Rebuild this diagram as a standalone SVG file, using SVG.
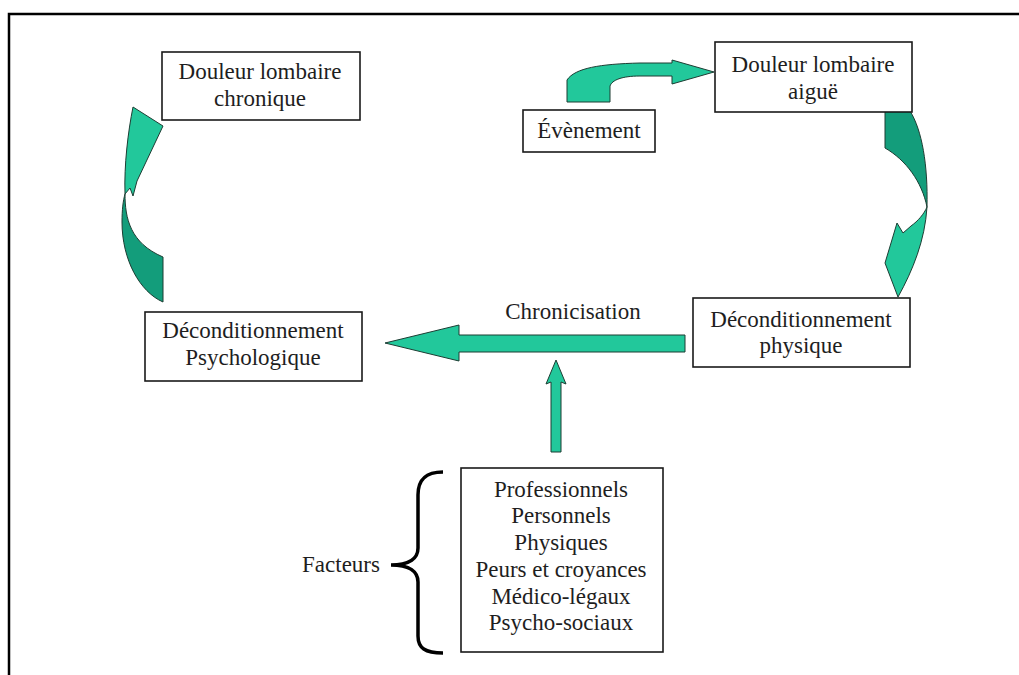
<svg xmlns="http://www.w3.org/2000/svg" width="1019" height="675" viewBox="0 0 1019 675">
<style>
.box{fill:#fff;stroke:#1a1a1a;stroke-width:1.6}
.t{font-family:"Liberation Serif","Times New Roman",serif;font-size:23px;fill:#1e1e1e;text-anchor:middle}
.light{fill:#22c89b;stroke:#1d3d33;stroke-width:1}
.dark{fill:#139d7b;stroke:#1d3d33;stroke-width:1}
.frame{fill:none;stroke:#000;stroke-width:2.5}
</style>
<rect width="1019" height="675" fill="#fff"/>
<path class="frame" d="M9,675 L9,14 L1019,14"/>

<g id="connectors">
  <!-- left curved arrow: Deconditionnement Psychologique -> Douleur lombaire chronique -->
  <g id="arrow-left">
    <path class="dark" d="M163,257 L163,302 C140,292 122,260 122,222 C122,210 123,201 125,194 C125,218 130,243 163,257 Z"/>
    <path class="light" d="M125,194 C124,165 128,132 133,107 L163,126 L137,181 L133,196 L130,188 Z"/>
  </g>
  <!-- right curved arrow: Douleur lombaire aigue -> Deconditionnement physique -->
  <g id="arrow-right">
    <path class="dark" d="M885,111 L910,111 C922,130 928,165 927,207 C922,182 906,160 885,148 Z"/>
    <path class="light" d="M927,207 C925,240 913,270 898,297 L885,263 L897,223 L903,233 L911,226 C918,221 924,214 927,207 Z"/>
  </g>
  <!-- top arrow: Evenement -> Douleur lombaire aigue -->
  <path id="arrow-top" class="light" d="M567,102 L567,80 C575,68 600,64 640,63 L672,63 L672,60 L714,72 L672,84 L672,76 L640,76 C622,76 612,80 610,86 L610,102 Z"/>
  <!-- chronicisation arrow -->
  <path id="arrow-chron" class="light" d="M685,335 L685,352 L459,352 L459,361 L385,343 L459,325 L459,335 Z"/>
  <!-- facteurs up arrow -->
  <path id="arrow-up" class="light" d="M556,360 L566,384 L561,382 L561,452 L551,452 L551,382 L546,384 Z"/>
  <!-- brace -->
  <path id="brace" d="M443,472 C425,472 418,480 418,495 L418,548 C418,558 410,565 391,565 C410,565 418,572 418,582 L418,636 C418,648 425,653 443,653" fill="none" stroke="#000" stroke-width="3.5"/>
</g>

<g id="node-chronique">
  <rect class="box" x="162" y="52" width="198" height="68"/>
  <text class="t" x="260" y="79">Douleur lombaire</text>
  <text class="t" x="260" y="106">chronique</text>
</g>
<g id="node-aigue">
  <rect class="box" x="715" y="42" width="197" height="70"/>
  <text class="t" x="813" y="72">Douleur lombaire</text>
  <text class="t" x="813" y="99">aiguë</text>
</g>
<g id="node-evenement">
  <rect class="box" x="523" y="110" width="132" height="42"/>
  <text class="t" x="589" y="138">Évènement</text>
</g>
<g id="node-decond-psy">
  <rect class="box" x="145" y="312" width="217" height="69"/>
  <text class="t" x="253" y="338">Déconditionnement</text>
  <text class="t" x="253" y="365">Psychologique</text>
</g>
<g id="node-decond-phys">
  <rect class="box" x="693" y="298" width="217" height="69"/>
  <text class="t" x="801" y="327">Déconditionnement</text>
  <text class="t" x="801" y="353">physique</text>
</g>
<g id="label-chronicisation">
  <text class="t" x="573" y="319">Chronicisation</text>
</g>
<g id="node-facteurs-list">
  <rect class="box" x="461" y="468" width="202" height="184"/>
  <text class="t" x="561" y="497">Professionnels</text>
  <text class="t" x="561" y="523">Personnels</text>
  <text class="t" x="561" y="550">Physiques</text>
  <text class="t" x="561" y="577">Peurs et croyances</text>
  <text class="t" x="561" y="604">Médico-légaux</text>
  <text class="t" x="561" y="630">Psycho-sociaux</text>
</g>
<g id="label-facteurs">
  <text class="t" x="341" y="572">Facteurs</text>
</g>
</svg>
